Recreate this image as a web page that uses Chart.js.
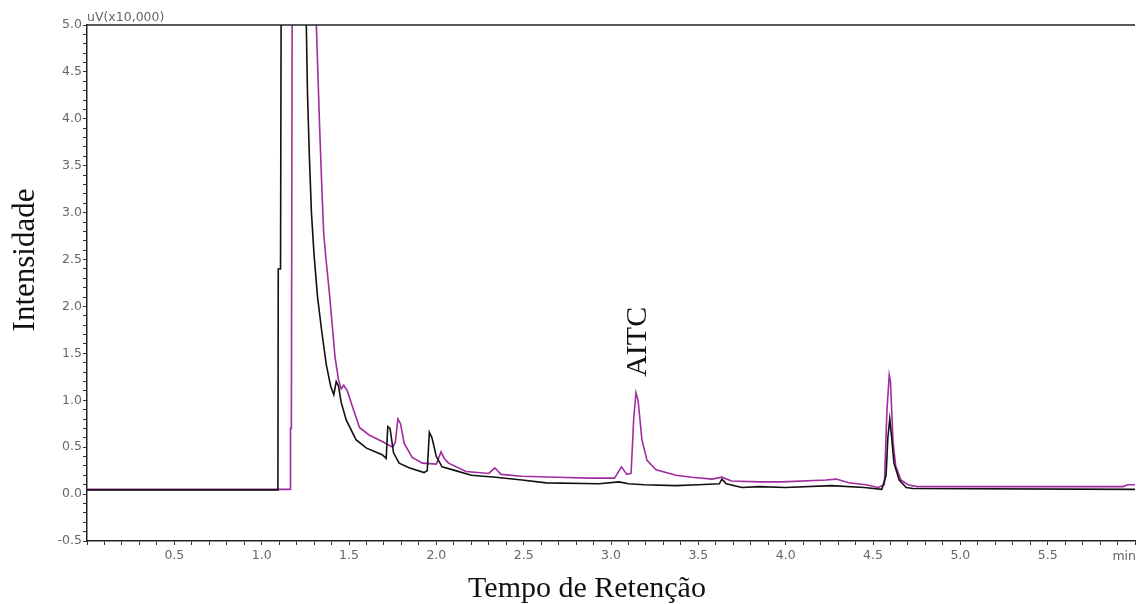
<!DOCTYPE html>
<html>
<head>
<meta charset="utf-8">
<script src="https://cdn.jsdelivr.net/npm/chart.js@4.4.1/dist/chart.umd.min.js"></script>
<style>
  html, body { margin: 0; padding: 0; background: #fff; }
  canvas { display: block; }
</style>
</head>
<body>
<canvas id="myChart" width="1138" height="604"></canvas>
<script>
// retention time (min) and intensity (uV x10,000)
const blackTime = [0, 1.093, 1.095, 1.108, 1.112, 1.25, 1.262, 1.273, 1.285, 1.30, 1.32, 1.345, 1.37, 1.395, 1.413, 1.427, 1.44, 1.455, 1.484, 1.54, 1.60, 1.69, 1.713, 1.722, 1.735, 1.755, 1.787, 1.844, 1.93, 1.948, 1.96, 1.975, 2.0, 2.033, 2.11, 2.20, 2.34, 2.49, 2.63, 2.93, 3.046, 3.10, 3.19, 3.37, 3.50, 3.62, 3.635, 3.66, 3.75, 3.85, 4.0, 4.26, 4.45, 4.55, 4.575, 4.585, 4.596, 4.607, 4.62, 4.65, 4.69, 4.73, 6.0];
const blackSignal = [0.045, 0.045, 2.4, 2.4, 5.6, 5.6, 4.3, 3.6, 3.0, 2.55, 2.1, 1.72, 1.38, 1.15, 1.06, 1.2, 1.15, 0.98, 0.79, 0.58, 0.49, 0.42, 0.38, 0.72, 0.70, 0.44, 0.33, 0.28, 0.23, 0.25, 0.66, 0.60, 0.40, 0.29, 0.25, 0.20, 0.18, 0.15, 0.12, 0.11, 0.13, 0.11, 0.10, 0.09, 0.10, 0.11, 0.16, 0.11, 0.07, 0.08, 0.07, 0.09, 0.07, 0.05, 0.2, 0.6, 0.80, 0.6, 0.33, 0.15, 0.07, 0.06, 0.05];

const magentaTime = [0, 1.163, 1.165, 1.17, 1.175, 1.305, 1.313, 1.333, 1.345, 1.355, 1.367, 1.39, 1.405, 1.42, 1.44, 1.455, 1.47, 1.49, 1.52, 1.56, 1.615, 1.69, 1.75, 1.765, 1.78, 1.795, 1.816, 1.862, 1.92, 2.0, 2.027, 2.045, 2.07, 2.17, 2.30, 2.335, 2.37, 2.49, 2.69, 2.88, 3.02, 3.06, 3.09, 3.115, 3.13, 3.143, 3.155, 3.166, 3.177, 3.206, 3.258, 3.315, 3.372, 3.463, 3.578, 3.635, 3.69, 3.85, 3.98, 4.23, 4.29, 4.36, 4.46, 4.53, 4.565, 4.58, 4.593, 4.60, 4.615, 4.63, 4.66, 4.70, 4.75, 5.93, 5.96, 6.0];
const magentaSignal = [0.05, 0.05, 0.7, 0.7, 5.6, 5.6, 5.0, 3.85, 3.24, 2.78, 2.53, 2.1, 1.78, 1.46, 1.22, 1.12, 1.16, 1.10, 0.93, 0.71, 0.63, 0.56, 0.50, 0.55, 0.80, 0.75, 0.54, 0.39, 0.33, 0.32, 0.45, 0.38, 0.33, 0.24, 0.22, 0.28, 0.21, 0.19, 0.18, 0.17, 0.17, 0.29, 0.21, 0.22, 0.8, 1.08, 1.0, 0.79, 0.58, 0.36, 0.26, 0.23, 0.20, 0.18, 0.16, 0.18, 0.14, 0.13, 0.13, 0.15, 0.16, 0.12, 0.10, 0.07, 0.1, 0.9, 1.27, 1.2, 0.55, 0.3, 0.15, 0.10, 0.08, 0.08, 0.1, 0.1];

const peakLabel = "AITC";
const peakLabelAt = [3.143, 1.25];
const yUnitLabel = "uV(x10,000)";
const xUnitLabel = "min";
const yTitle = "Intensidade";
const xTitle = "Tempo de Retenção";

const tickFont = "'DejaVu Sans', sans-serif";
const toPoints = (t, v) => t.map((x, i) => ({ x: x, y: v[i] }));
const isHalf = (v) => Math.abs(v * 2 - Math.round(v * 2)) < 1e-6;

const textPlugin = {
  id: "textPlugin",
  afterDraw(chart) {
    const c = chart.ctx;
    const a = chart.chartArea;
    const xs = chart.scales.x;
    const ys = chart.scales.y;
    c.save();
    // top frame line
    c.strokeStyle = "#222";
    c.lineWidth = 1.5;
    c.beginPath();
    c.moveTo(a.left, a.top);
    c.lineTo(a.right, a.top);
    c.stroke();

    c.fillStyle = "#666";
    c.font = "12.5px " + tickFont;
    c.textBaseline = "bottom";
    c.textAlign = "left";
    c.fillText(yUnitLabel, a.left, a.top - 1);
    c.textAlign = "right";
    c.textBaseline = "top";
    c.fillText(xUnitLabel, a.right + 1, a.bottom + 9);

    c.fillStyle = "#111";
    c.font = "30px 'Liberation Serif', 'Times New Roman', serif";
    c.textAlign = "center";
    c.textBaseline = "alphabetic";
    c.fillText(xTitle, 587, 597);

    c.save();
    c.translate(34, 260);
    c.rotate(-Math.PI / 2);
    c.font = "31px 'Liberation Serif', 'Times New Roman', serif";
    c.fillText(yTitle, 0, 0);
    c.restore();

    c.save();
    c.translate(xs.getPixelForValue(peakLabelAt[0]) + 10, ys.getPixelForValue(peakLabelAt[1]));
    c.rotate(-Math.PI / 2);
    c.textAlign = "left";
    c.fillText(peakLabel, 0, 0);
    c.restore();
    c.restore();
  }
};

const ctx = document.querySelector("#myChart");

new Chart(ctx, {
  type: "line",
  data: {
    datasets: [
      {
        label: "black",
        data: toPoints(blackTime, blackSignal),
        borderColor: "#111111",
        borderWidth: 1.6,
      },
      {
        label: "magenta",
        data: toPoints(magentaTime, magentaSignal),
        borderColor: "#a02ca0",
        borderWidth: 1.6,
      },
    ],
  },
  options: {
    responsive: false,
    animation: false,
    parsing: false,
    elements: {
      point: { radius: 0 },
      line: { tension: 0 },
    },
    layout: {
      padding: { top: 25, right: 1, left: 0, bottom: 0 },
    },
    scales: {
      x: {
        type: "linear",
        min: 0,
        max: 6.0,
        afterFit: (s) => { s.height = 63; },
        border: { color: "#222", width: 1.5 },
        grid: {
          drawOnChartArea: false,
          tickLength: 4,
          tickColor: "#333",
        },
        ticks: {
          stepSize: 0.1,
          autoSkip: false,
          maxRotation: 0,
          padding: 3,
          color: "#666",
          font: { size: 12.5, family: tickFont },
          callback: function (value) {
            if (value <= 0 || value >= 5.99) return "";
            return isHalf(value) ? value.toFixed(1) : "";
          },
        },
      },
      y: {
        min: -0.5,
        max: 5.0,
        afterFit: (s) => { s.width = 87; },
        border: { color: "#222", width: 1.5 },
        grid: {
          drawOnChartArea: false,
          tickLength: 4,
          tickColor: "#333",
        },
        ticks: {
          stepSize: 0.1,
          autoSkip: false,
          padding: 1,
          color: "#666",
          font: { size: 12.5, family: tickFont },
          callback: function (value) {
            return isHalf(value) ? value.toFixed(1) : "";
          },
        },
      },
    },
    plugins: {
      legend: { display: false },
      tooltip: { enabled: false },
    },
  },
  plugins: [textPlugin],
});
</script>
</body>
</html>
